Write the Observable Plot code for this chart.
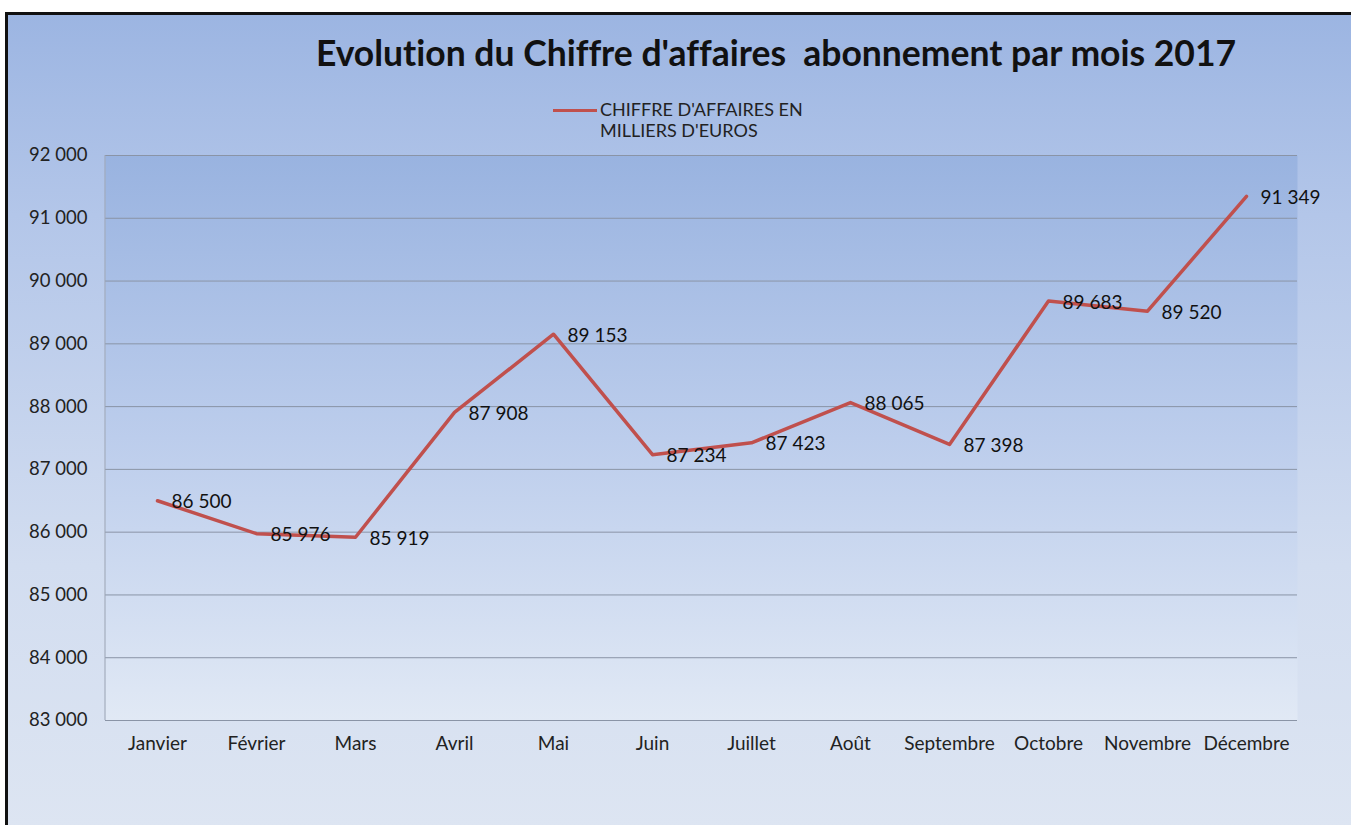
<!DOCTYPE html>
<html>
<head>
<meta charset="utf-8">
<script src="https://cdn.jsdelivr.net/npm/d3@7"></script>
<script src="https://cdn.jsdelivr.net/npm/@observablehq/plot@0.6"></script>
<style>
  html, body { margin: 0; padding: 0; background: #fff; }
  #wrap { position: relative; width: 1351px; height: 825px; overflow: hidden; background: #fff; font-family: Lato, "Open Sans", sans-serif; font-variant-ligatures: none; }
  #panel { position: absolute; left: 5px; top: 12px; width: 1400px; height: 900px;
           border-left: 3px solid #111; border-top: 3px solid #111;
           background: linear-gradient(to bottom, #9cb5e2 0px, #b3c6e9 200px, #d2ddf0 550px, #dde5f2 813px); }
  #title { position: absolute; left: 0; width: 1552px; top: 31px; text-align: center;
           font-weight: 700; font-size: 35.5px; color: #111; white-space: pre; }
  #legend { position: absolute; left: 553px; top: 99px; color: #222; font-size: 18px; line-height: 21px; }
  #legend .sw { position: absolute; left: 0; top: 10px; width: 44px; height: 3px; background: #c0504d; }
  #legend .tx { position: absolute; left: 47px; top: 0; white-space: nowrap; }
  #chart { position: absolute; left: 0; top: 140px; }
  #chart svg text { font-variant-ligatures: none; }
</style>
</head>
<body>
<div id="wrap">
  <div id="panel"></div>
  <div id="title">Evolution du Chiffre d'affaires  abonnement par mois 2017</div>
  <div id="legend"><div class="sw"></div><div class="tx">CHIFFRE D'AFFAIRES EN<br>MILLIERS D'EUROS</div></div>
  <div id="chart"></div>
</div>
<script>
const months = ["Janvier","Février","Mars","Avril","Mai","Juin","Juillet","Août","Septembre","Octobre","Novembre","Décembre"];
const revenue = [86500, 85976, 85919, 87908, 89153, 87234, 87423, 88065, 87398, 89683, 89520, 91349];
const yTicks = [83000, 84000, 85000, 86000, 87000, 88000, 89000, 90000, 91000, 92000];

const data = months.map((m, i) => ({month: m, value: revenue[i]}));
const fmt = d => d3.format(",")(d).replace(/,/g, " ");

const chart = Plot.plot({
  width: 1351,
  height: 685,
  marginLeft: 105,
  marginRight: 54,
  marginTop: 15,
  marginBottom: 105,
  style: {background: "transparent", fontFamily: "Lato, 'Open Sans', sans-serif", fontSize: "16px", color: "#222"},
  x: {type: "point", domain: months, padding: 0.5, label: null},
  y: {domain: [83000, 92000], ticks: yTicks, label: null},
  marks: [
    Plot.frame({fill: "url(#plotbg)", stroke: null}),
    Plot.ruleY(yTicks, {stroke: "#8a94a6", strokeWidth: 1, strokeOpacity: 1}),
    Plot.axisY({ticks: yTicks, tickSize: 0, tickPadding: 18, tickFormat: fmt, fontSize: 18.5, label: null}),
    Plot.axisX({tickSize: 0, tickPadding: 16, fontSize: 19, label: null}),
    Plot.line(data, {x: "month", y: "value", stroke: "#c0504d", strokeWidth: 3.5}),
    Plot.text(data, {x: "month", y: "value", text: d => fmt(d.value), textAnchor: "start", dx: 14, dy: 1.5, fontSize: 19, fill: "#111"})
  ]
});

const svg = d3.select(chart);
const defs = svg.insert("defs", ":first-child");
const g = defs.append("linearGradient").attr("id", "plotbg").attr("x1", 0).attr("y1", 0).attr("x2", 0).attr("y2", 1);
g.append("stop").attr("offset", "0%").attr("stop-color", "#99b3e0");
g.append("stop").attr("offset", "50%").attr("stop-color", "#bccdec");
g.append("stop").attr("offset", "100%").attr("stop-color", "#e1e9f5");
// left edge of plot area
svg.append("line").attr("x1", 105).attr("x2", 105).attr("y1", 15).attr("y2", 580).attr("stroke", "#9aa3b3");

document.getElementById("chart").appendChild(chart);
</script>
</body>
</html>
